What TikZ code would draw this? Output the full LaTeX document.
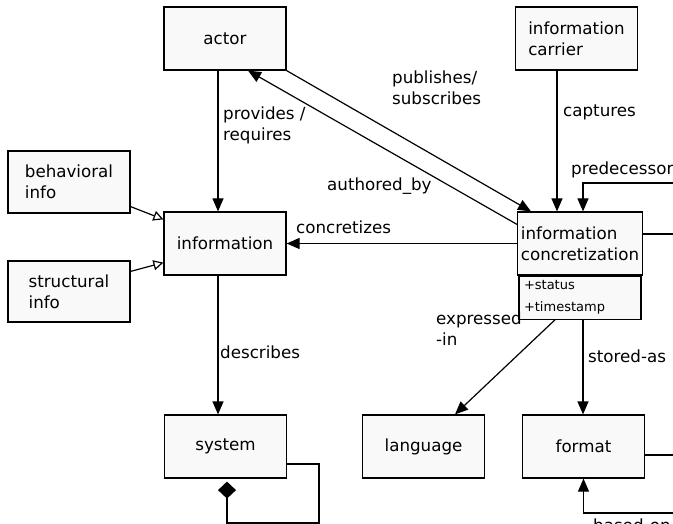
\documentclass[tikz,border=0pt]{standalone}
\usepackage{fontspec}
\setmainfont{DejaVu Sans}
\usetikzlibrary{arrows.meta,calc}
\definecolor{boxfill}{RGB}{249,249,249}
\tikzset{
  umlbox/.style={draw=black,line width=1.2pt,fill=boxfill,minimum width=122pt,
    minimum height=63pt,align=left,font=\fontsize{16.7}{21}\selectfont},
  umlattr/.style={draw=black,line width=1.2pt,fill=boxfill,minimum width=122pt,
    minimum height=43pt,align=left,text width=112pt,inner sep=4pt,
    font=\fontsize{13}{22}\selectfont},
  assoc/.style={line width=1.2pt,-{Triangle[length=13pt,width=11pt]}},
  genarrow/.style={line width=1.2pt,-{Triangle[open,length=10pt,width=10pt,fill=white]}},
  lbl/.style={inner sep=0pt,align=left,anchor=base west,font=\fontsize{16.7}{21}\selectfont}
}

\begin{document}
\begin{tikzpicture}[x=1pt,y=-1pt,line cap=butt,line join=miter]

\useasboundingbox (0,0) rectangle (673,524);
\clip (0,0) rectangle (673,524);

% =============================== nodes ================================
\node[umlbox] (actor)    at (225,38.5)  {actor};
\node[umlbox] (carrier)  at (576.5,38.5) {information\\carrier};
\node[umlbox,minimum height=62pt] (behav) at (69,182) {behavioral\\info};
\node[umlbox,minimum height=61pt] (struct) at (69,291.5) {structural\\info};
\node[umlbox] (info)     at (225,243.5) {information};
\node[umlbox] (conc)     at (580,243.5) {information\\concretization};
\node[umlattr,anchor=north] (concattr) at (conc.south) {+status\\+timestamp};
\node[umlbox] (system)   at (225.5,446.5) {system};
\node[umlbox] (language) at (423.5,446.5) {language};
\node[umlbox] (format)   at (583.5,446.5) {format};

% loop corners, outside the visible frame
\coordinate (predturn)  at (700,183);
\coordinate (basedturn) at (700,513);
\coordinate (sysloop)   at (319,523);

% ============================ connectors ==============================
\draw[assoc] ([xshift=-7pt]actor.south) -- ([xshift=-7pt]info.north);
\draw[assoc] ([xshift=-7pt]info.south) -- ([xshift=-7.5pt]system.north);
\draw[assoc] (conc.west) -- (info.east);
\draw[assoc] (actor.south east) -- ([xshift=14pt]conc.north west);
\draw[assoc] ([yshift=-13pt]conc.north west) -- ([xshift=23pt]actor.south);
\draw[assoc] ([xshift=-19.5pt]carrier.south) -- ([xshift=-19.5pt]carrier.south |- conc.north);
\draw[assoc] ([xshift=-25pt]concattr.south) -- ([xshift=31.5pt]language.north);
\draw[assoc] ([xshift=3pt]concattr.south) -- ([xshift=3pt]concattr.south |- format.north);

% generalisation
\draw[genarrow] ([yshift=7pt]behav.south east) -- ([yshift=-8pt]info.north west);
\draw[genarrow] ([yshift=-11pt]struct.north east) -- ([yshift=13pt]info.south west);

% self associations
\draw[assoc] ([yshift=9.5pt]conc.east) -| (predturn) -| ([xshift=3pt]conc.north);
\draw[assoc] ([yshift=-8.5pt]format.east) -| (basedturn) -| (format.south);
\draw[line width=1.2pt,shorten >=3pt,-{Diamond[length=17pt,width=18pt]}]
  ([yshift=-17.5pt]system.east) -| (sysloop) -| ([xshift=1.5pt]system.south);

% ============================== labels ================================
\node[lbl] (provlbl)  at (223,141) {provides /\\requires};
\node[lbl] (publbl)   at (392,105) {publishes/\\subscribes};
\node[lbl] (authlbl)  at (327,191) {authored\_by};
\node[lbl] (caplbl)   at (563,117) {captures};
\node[lbl] (conclbl)  at (296,234) {concretizes};
\node[lbl] (desclbl)  at (220,359) {describes};
\node[lbl] (exprlbl)  at (436,345) {expressed\\-in};
\node[lbl] (storlbl)  at (588,362) {stored-as};
\node[lbl] (predlbl)  at (571,175) {predecessor};
\node[lbl] (basedlbl) at (593,531) {based-on};

\end{tikzpicture}
\end{document}
